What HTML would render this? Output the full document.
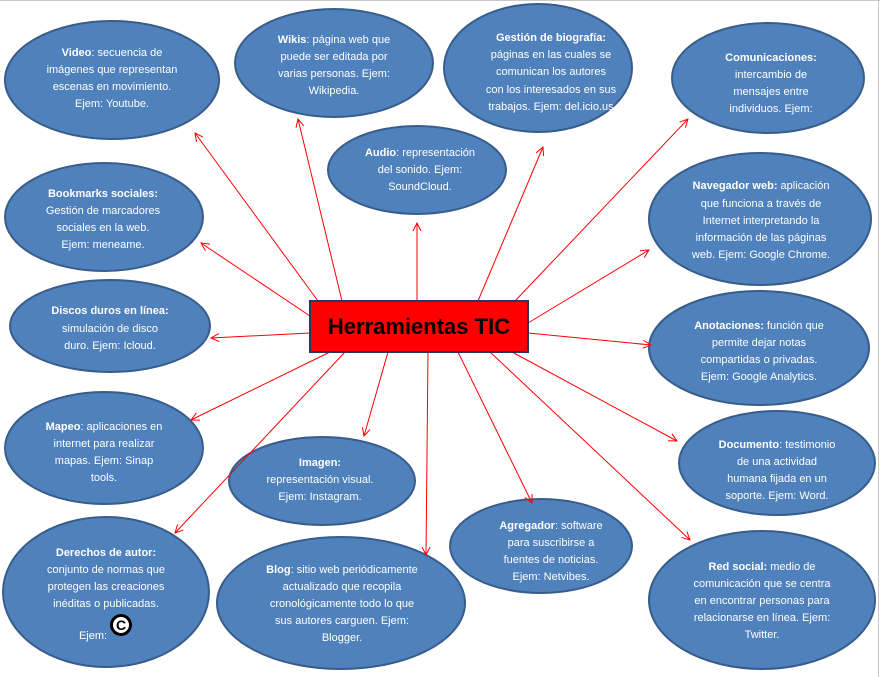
<!DOCTYPE html>
<html><head><meta charset="utf-8"><style>
html,body{margin:0;padding:0;background:#fff;width:880px;height:677px;overflow:hidden}
svg text{font-family:"Liberation Sans",sans-serif;font-size:11px;fill:#fff}
</style></head><body>
<svg width="880" height="677" viewBox="0 0 880 677" xmlns="http://www.w3.org/2000/svg">
<defs><marker id="a" markerWidth="10" markerHeight="10" refX="9" refY="5" orient="auto" markerUnits="userSpaceOnUse"><path d="M1,1 L9,5 L1,9" fill="none" stroke="#f00" stroke-width="1"/></marker></defs>
<line x1="0" y1="0.5" x2="880" y2="0.5" stroke="#c8c8c8"/>
<line x1="878.5" y1="0" x2="878.5" y2="677" stroke="#c8c8c8"/>
<g fill="#4f81bd" stroke="#385d8a" stroke-width="2">
<ellipse cx="112" cy="80" rx="107" ry="59"/>
<ellipse cx="334" cy="63" rx="99" ry="54"/>
<ellipse cx="538" cy="68" rx="94" ry="64"/>
<ellipse cx="768" cy="78" rx="96" ry="55"/>
<ellipse cx="417" cy="170" rx="89" ry="44"/>
<ellipse cx="104" cy="217" rx="99" ry="54"/>
<ellipse cx="760" cy="219" rx="111" ry="66"/>
<ellipse cx="110" cy="326" rx="100" ry="46"/>
<ellipse cx="759" cy="348" rx="110" ry="57"/>
<ellipse cx="104" cy="448" rx="99" ry="56"/>
<ellipse cx="322" cy="481" rx="93" ry="44"/>
<ellipse cx="777" cy="463" rx="98" ry="52"/>
<ellipse cx="541" cy="546" rx="91" ry="47"/>
<ellipse cx="106" cy="592" rx="103" ry="75"/>
<ellipse cx="341" cy="603" rx="124" ry="66"/>
<ellipse cx="762" cy="600" rx="113" ry="69"/>
</g>
<g stroke="#f00" stroke-width="1" marker-end="url(#a)">
<line x1="318" y1="301" x2="195" y2="133"/>
<line x1="342" y1="301" x2="298" y2="119"/>
<line x1="417" y1="301" x2="417" y2="223"/>
<line x1="478" y1="301" x2="543" y2="147"/>
<line x1="515" y1="301" x2="688" y2="119"/>
<line x1="310" y1="316" x2="201" y2="243"/>
<line x1="528" y1="323" x2="649" y2="250"/>
<line x1="310" y1="333" x2="211" y2="338"/>
<line x1="528" y1="333" x2="651" y2="345"/>
<line x1="330" y1="352" x2="191" y2="420"/>
<line x1="512" y1="352" x2="677" y2="441"/>
<line x1="388" y1="352" x2="364" y2="436"/>
<line x1="345" y1="352" x2="175" y2="533"/>
<line x1="428" y1="352" x2="426" y2="555"/>
<line x1="458" y1="352" x2="532" y2="503"/>
<line x1="490" y1="352" x2="690" y2="540"/>
</g>
<rect x="310" y="301" width="218" height="51" fill="#f00" stroke="#1f3864" stroke-width="2"/>
<text x="419" y="334" text-anchor="middle" style="font-size:22px;font-weight:bold;fill:#000">Herramientas TIC</text>
<g text-anchor="middle">
<text x="112" y="56"><tspan font-weight="bold">Video</tspan>:  secuencia de</text>
<text x="112" y="73">imágenes que representan</text>
<text x="112" y="90">escenas en movimiento.</text>
<text x="112" y="107">Ejem: Youtube.</text>
<text x="334" y="43"><tspan font-weight="bold">Wikis</tspan>: página web que</text>
<text x="334" y="60">puede ser editada por</text>
<text x="334" y="77">varias personas. Ejem:</text>
<text x="334" y="94">Wikipedia.</text>
<text x="551" y="41" font-weight="bold">Gestión de biografía:</text>
<text x="551" y="58">páginas en las cuales se</text>
<text x="551" y="75">comunican los autores</text>
<text x="551" y="93">con los interesados en sus</text>
<text x="551" y="110">trabajos. Ejem: del.icio.us</text>
<text x="771" y="61" font-weight="bold">Comunicaciones:</text>
<text x="771" y="78">intercambio de</text>
<text x="771" y="95">mensajes entre</text>
<text x="771" y="112">individuos.  Ejem:</text>
<text x="420" y="156"><tspan font-weight="bold">Audio</tspan>:  representación</text>
<text x="420" y="173">del sonido. Ejem:</text>
<text x="420" y="190">SoundCloud.</text>
<text x="103" y="197" font-weight="bold">Bookmarks sociales:</text>
<text x="103" y="214">Gestión de marcadores</text>
<text x="103" y="231">sociales en la web.</text>
<text x="103" y="248">Ejem: meneame.</text>
<text x="761" y="189"><tspan font-weight="bold">Navegador web:</tspan> aplicación</text>
<text x="761" y="207">que funciona a través de</text>
<text x="761" y="224">Internet interpretando  la</text>
<text x="761" y="241">información de las páginas</text>
<text x="761" y="258">web. Ejem: Google Chrome.</text>
<text x="110" y="314" font-weight="bold">Discos duros  en línea:</text>
<text x="110" y="332">simulación de disco</text>
<text x="110" y="349">duro. Ejem: Icloud.</text>
<text x="759" y="329"><tspan font-weight="bold">Anotaciones:</tspan>  función que</text>
<text x="759" y="346">permite dejar notas</text>
<text x="759" y="363">compartidas o privadas.</text>
<text x="759" y="380">Ejem: Google Analytics.</text>
<text x="104" y="430"><tspan font-weight="bold">Mapeo</tspan>: aplicaciones en</text>
<text x="104" y="447">internet para realizar</text>
<text x="104" y="464">mapas. Ejem: Sinap</text>
<text x="104" y="481">tools.</text>
<text x="320" y="466" font-weight="bold">Imagen:</text>
<text x="320" y="483">representación visual.</text>
<text x="320" y="500">Ejem: Instagram.</text>
<text x="777" y="448"><tspan font-weight="bold">Documento</tspan>: testimonio</text>
<text x="777" y="465">de una actividad</text>
<text x="777" y="482">humana fijada en un</text>
<text x="777" y="499">soporte. Ejem: Word.</text>
<text x="551" y="529"><tspan font-weight="bold">Agregador</tspan>: software</text>
<text x="551" y="546">para suscribirse a</text>
<text x="551" y="563">fuentes de noticias.</text>
<text x="551" y="580">Ejem: Netvibes.</text>
<text x="106" y="556" font-weight="bold">Derechos de autor:</text>
<text x="106" y="573">conjunto de normas que</text>
<text x="106" y="590">protegen las creaciones</text>
<text x="106" y="607">inéditas o publicadas.</text>
<text x="93" y="639">Ejem:</text>
<text x="342" y="573"><tspan font-weight="bold">Blog</tspan>: sitio web periódicamente</text>
<text x="342" y="590">actualizado que recopila</text>
<text x="342" y="607">cronológicamente todo lo que</text>
<text x="342" y="624">sus autores carguen. Ejem:</text>
<text x="342" y="641">Blogger.</text>
<text x="762" y="570"><tspan font-weight="bold">Red social:</tspan> medio de</text>
<text x="762" y="587">comunicación  que se centra</text>
<text x="762" y="604">en encontrar  personas para</text>
<text x="762" y="621">relacionarse en línea. Ejem:</text>
<text x="762" y="638">Twitter.</text>
</g>
<circle cx="121" cy="625" r="11" fill="#000"/>
<circle cx="121" cy="625" r="8" fill="#fff"/>
<text x="121" y="630" text-anchor="middle" style="font-size:14px;font-weight:bold;fill:#000">C</text>
</svg>
</body></html>
